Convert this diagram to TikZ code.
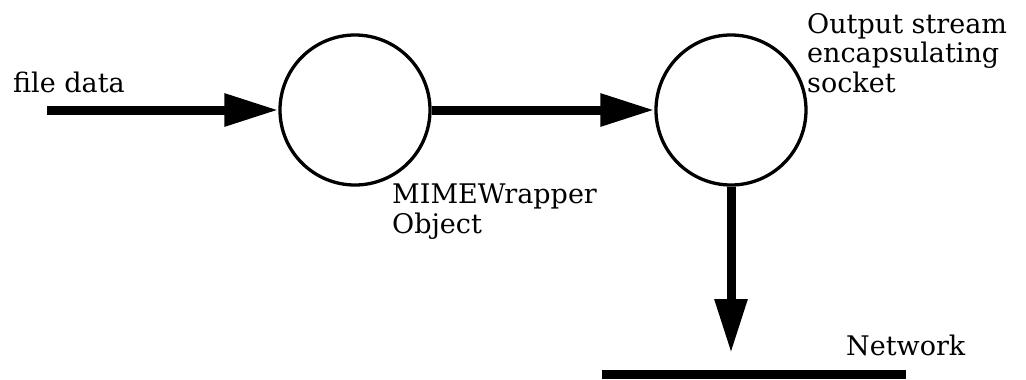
\documentclass[tikz,border=0pt]{standalone}
\usepackage{fontspec}
\setmainfont{DejaVu Serif}
\usetikzlibrary{arrows.meta}
\begin{document}
\begin{tikzpicture}[x=1pt, y=-1pt,
    flow/.style={line width=9pt, -{Triangle[length=54pt, width=31pt]}},
    proc/.style={draw, circle, line width=3.3pt, minimum size=150pt, inner sep=0pt},
    lbl/.style={font=\fontsize{27}{29.5}\selectfont, inner sep=0pt, align=left}]
    \useasboundingbox (0,0) rectangle (1026,380);

    % Processes
    \node[proc] (wrap) at (355,110) {};
    \node[proc] (out) at (731,110) {};

    % Free ends
    \coordinate (src) at (47,110);
    \coordinate (drop) at (731,353);
    \coordinate (netL) at (602,374);
    \coordinate (netR) at (906,374);

    % Data flow
    \draw[flow] (src) -- (wrap.west);
    \draw[flow] (wrap.east) -- (out.west);
    \draw[flow] (out.south) -- (drop);

    % Network bar
    \draw[line width=9pt] (netL) -- (netR);

    % Labels (base = last line)
    \node[lbl, anchor=base west] (fdata) at (13,92) {file data};
    \node[lbl, anchor=base west] (wraplbl) at (392,233) {MIMEWrapper\\Object};
    \node[lbl, anchor=base west] (outlbl) at (807,92) {Output stream\\encapsulating\\socket};
    \node[lbl, anchor=base west] (netlbl) at (846,355) {Network};
\end{tikzpicture}
\end{document}
